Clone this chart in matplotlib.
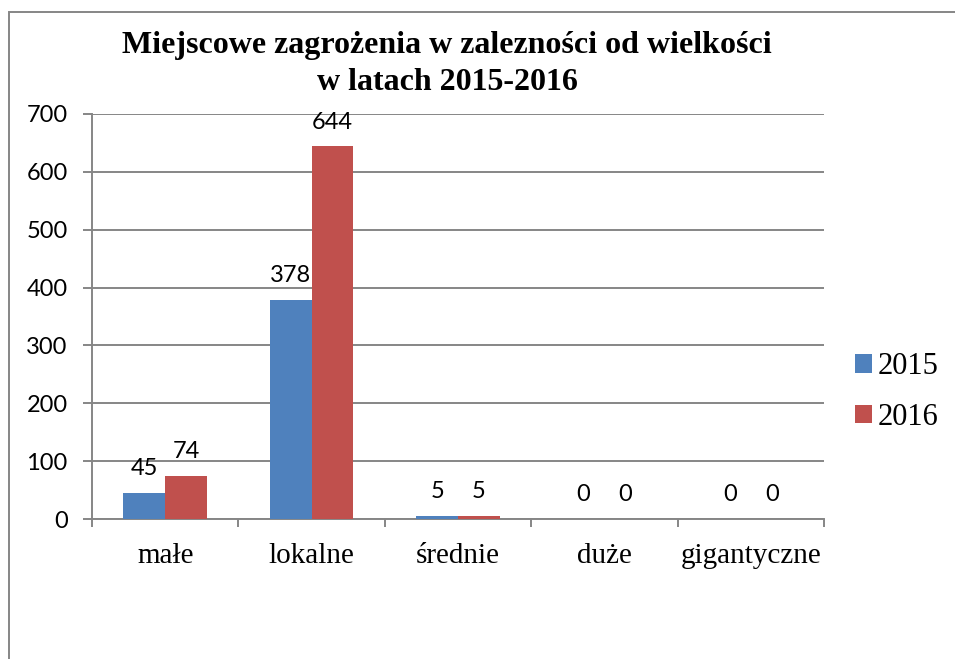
import numpy as np
import matplotlib
matplotlib.use("Agg")
import matplotlib.pyplot as plt
from matplotlib.patches import Rectangle

# dane
categories = ["małe", "lokalne", "średnie", "duże", "gigantyczne"]
values_2015 = [45, 378, 5, 0, 0]
values_2016 = [74, 644, 5, 0, 0]
series_names = ["2015", "2016"]
y_ticks = [0, 100, 200, 300, 400, 500, 600, 700]
title = "Miejscowe zagrożenia w zalezności od wielkości\nw latach 2015-2016"

BLUE = "#4F81BD"
RED = "#C0504D"
GRAY = "#868686"
SERIF = "Liberation Serif"
SANS = "Lato"

fig = plt.figure(figsize=(9.55, 6.59), dpi=100)
fig.patch.set_facecolor("white")

# ramka wykresu (ucięta z prawej i z dołu)
fig.patches.append(Rectangle((9 / 955, -0.05), 1.2, 1 - 12 / 659 + 0.05,
                             transform=fig.transFigure, fill=False,
                             edgecolor=GRAY, linewidth=1.4))

ax = fig.add_axes([92 / 955, 1 - 519 / 659, (824 - 92) / 955, (519 - 114) / 659])

x = np.arange(len(categories))
w = 0.285
b1 = ax.bar(x - w / 2, values_2015, w, color=BLUE, label=series_names[0], zorder=3)
b2 = ax.bar(x + w / 2, values_2016, w, color=RED, label=series_names[1], zorder=3)

for bars, vals in ((b1, values_2015), (b2, values_2016)):
    for rect, v in zip(bars, vals):
        ax.annotate(str(v), (rect.get_x() + rect.get_width() / 2, v),
                    xytext=(0, 10), textcoords="offset points",
                    ha="center", va="bottom", fontsize=17, family=SANS)

ax.set_xlim(-0.5, len(categories) - 0.5)
ax.set_ylim(0, 700)
ax.set_yticks(y_ticks)
ax.set_yticklabels([str(t) for t in y_ticks], family=SANS, fontsize=17)
ax.yaxis.grid(True, color=GRAY, linewidth=1.4, zorder=0)
ax.set_axisbelow(True)

ax.set_xticks(x)
ax.set_xticklabels(categories, family=SERIF, fontsize=21)
ax.set_xticks(np.arange(len(categories) + 1) - 0.5, minor=True)
ax.tick_params(axis="x", which="major", length=0, pad=17)
ax.tick_params(axis="x", which="minor", length=6, width=1.4, color=GRAY)
ax.tick_params(axis="y", length=6.5, width=1.4, color=GRAY, pad=11)

for s in ("top", "right"):
    ax.spines[s].set_visible(False)
for s in ("left", "bottom"):
    ax.spines[s].set_color(GRAY)
    ax.spines[s].set_linewidth(1.4)

fig.text(447 / 955, 1 - 64 / 659, title, ha="center", va="center",
         family=SERIF, fontweight="bold", fontsize=23, linespacing=1.32)

fig.legend(handles=[b1, b2], labels=series_names, loc="center left",
           bbox_to_anchor=(855 / 955, 1 - 392 / 659), frameon=False,
           borderpad=0, borderaxespad=0,
           prop={"family": SERIF, "size": 22}, handlelength=0.55,
           handleheight=0.55, handletextpad=0.2, labelspacing=0.7)

fig.savefig("out.png", dpi=100)
